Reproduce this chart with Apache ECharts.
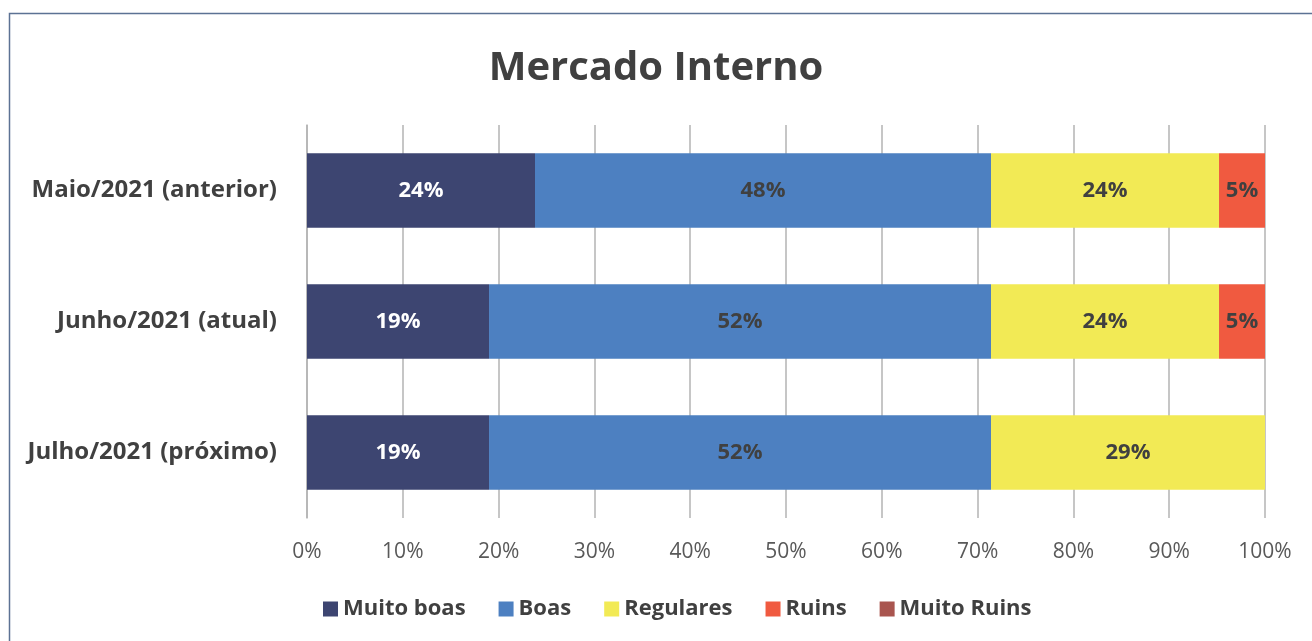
<!DOCTYPE html>
<html>
<head>
<meta charset="utf-8">
<script src="https://cdn.jsdelivr.net/npm/echarts@6/dist/echarts.min.js"></script>
<style>
  html, body { margin: 0; padding: 0; background: #fff; }
  #chart { width: 1312px; height: 641px; }
</style>
</head>
<body>
<div id="chart"></div>
<script>
  const periods = ["Maio/2021 (anterior)", "Junho/2021 (atual)", "Julho/2021 (próximo)"];
  const muitoBoas = [23.8, 19.0, 19.0];
  const boas = [47.6, 52.4, 52.4];
  const regulares = [23.8, 23.8, 28.6];
  const ruins = [4.8, 4.8, 0];
  const muitoRuins = [0, 0, 0];
  const xTicks = [0, 10, 20, 30, 40, 50, 60, 70, 80, 90, 100];

  const font = "'Open Sans', sans-serif";

  const makeSeries = (name, data, color, labelColor) => ({
    name,
    type: "bar",
    stack: "total",
    data,
    barWidth: "57%",
    itemStyle: { color },
    label: {
      show: true,
      position: "inside",
      color: labelColor,
      fontFamily: font,
      fontWeight: "bold",
      fontSize: 22,
      formatter: (p) => (p.value > 0 ? Math.round(p.value) + "%" : ""),
    },
  });

  const chart = echarts.init(document.getElementById("chart"));
  chart.setOption({
    animation: false,
    graphic: [
      {
        type: "rect",
        shape: { x: 9.5, y: 13.5, width: 1340, height: 680 },
        style: { fill: "none", stroke: "#5c7294", lineWidth: 1.5 },
        silent: true,
      },
    ],
    title: {
      text: "Mercado Interno",
      left: "center",
      top: 44,
      textStyle: { fontFamily: font, fontWeight: "bold", fontSize: 40, color: "#404040" },
    },
    legend: {
      bottom: 16,
      left: 318,
      itemWidth: 15,
      itemHeight: 15,
      itemGap: 33,
      icon: "rect",
      textStyle: { fontFamily: font, fontWeight: "bold", fontSize: 22, color: "#404040" },
      data: ["Muito boas", "Boas", "Regulares", "Ruins", "Muito Ruins"],
    },
    grid: { left: 307, right: 47, top: 125, bottom: 123 },
    xAxis: {
      type: "value",
      min: 0,
      max: 100,
      interval: 10,
      axisLine: { show: false },
      axisTick: { show: false },
      axisLabel: {
        margin: 24,
        fontFamily: font,
        fontSize: 21,
        color: "#595959",
        formatter: (v) => (xTicks.includes(v) ? v + "%" : ""),
      },
      splitLine: { show: true, lineStyle: { color: "#b3b3b3", width: 1.5 } },
    },
    yAxis: {
      type: "category",
      inverse: true,
      data: periods,
      axisLine: { show: true, lineStyle: { color: "#b3b3b3", width: 1.5 } },
      axisTick: { show: false },
      axisLabel: {
        margin: 30,
        fontFamily: font,
        fontWeight: "bold",
        fontSize: 24,
        color: "#404040",
      },
    },
    series: [
      makeSeries("Muito boas", muitoBoas, "#3d4571", "#ffffff"),
      makeSeries("Boas", boas, "#4d80c1", "#404040"),
      makeSeries("Regulares", regulares, "#f2ea55", "#404040"),
      makeSeries("Ruins", ruins, "#f05a40", "#404040"),
      makeSeries("Muito Ruins", muitoRuins, "#a9554f", "#404040"),
    ],
  });
</script>
</body>
</html>
